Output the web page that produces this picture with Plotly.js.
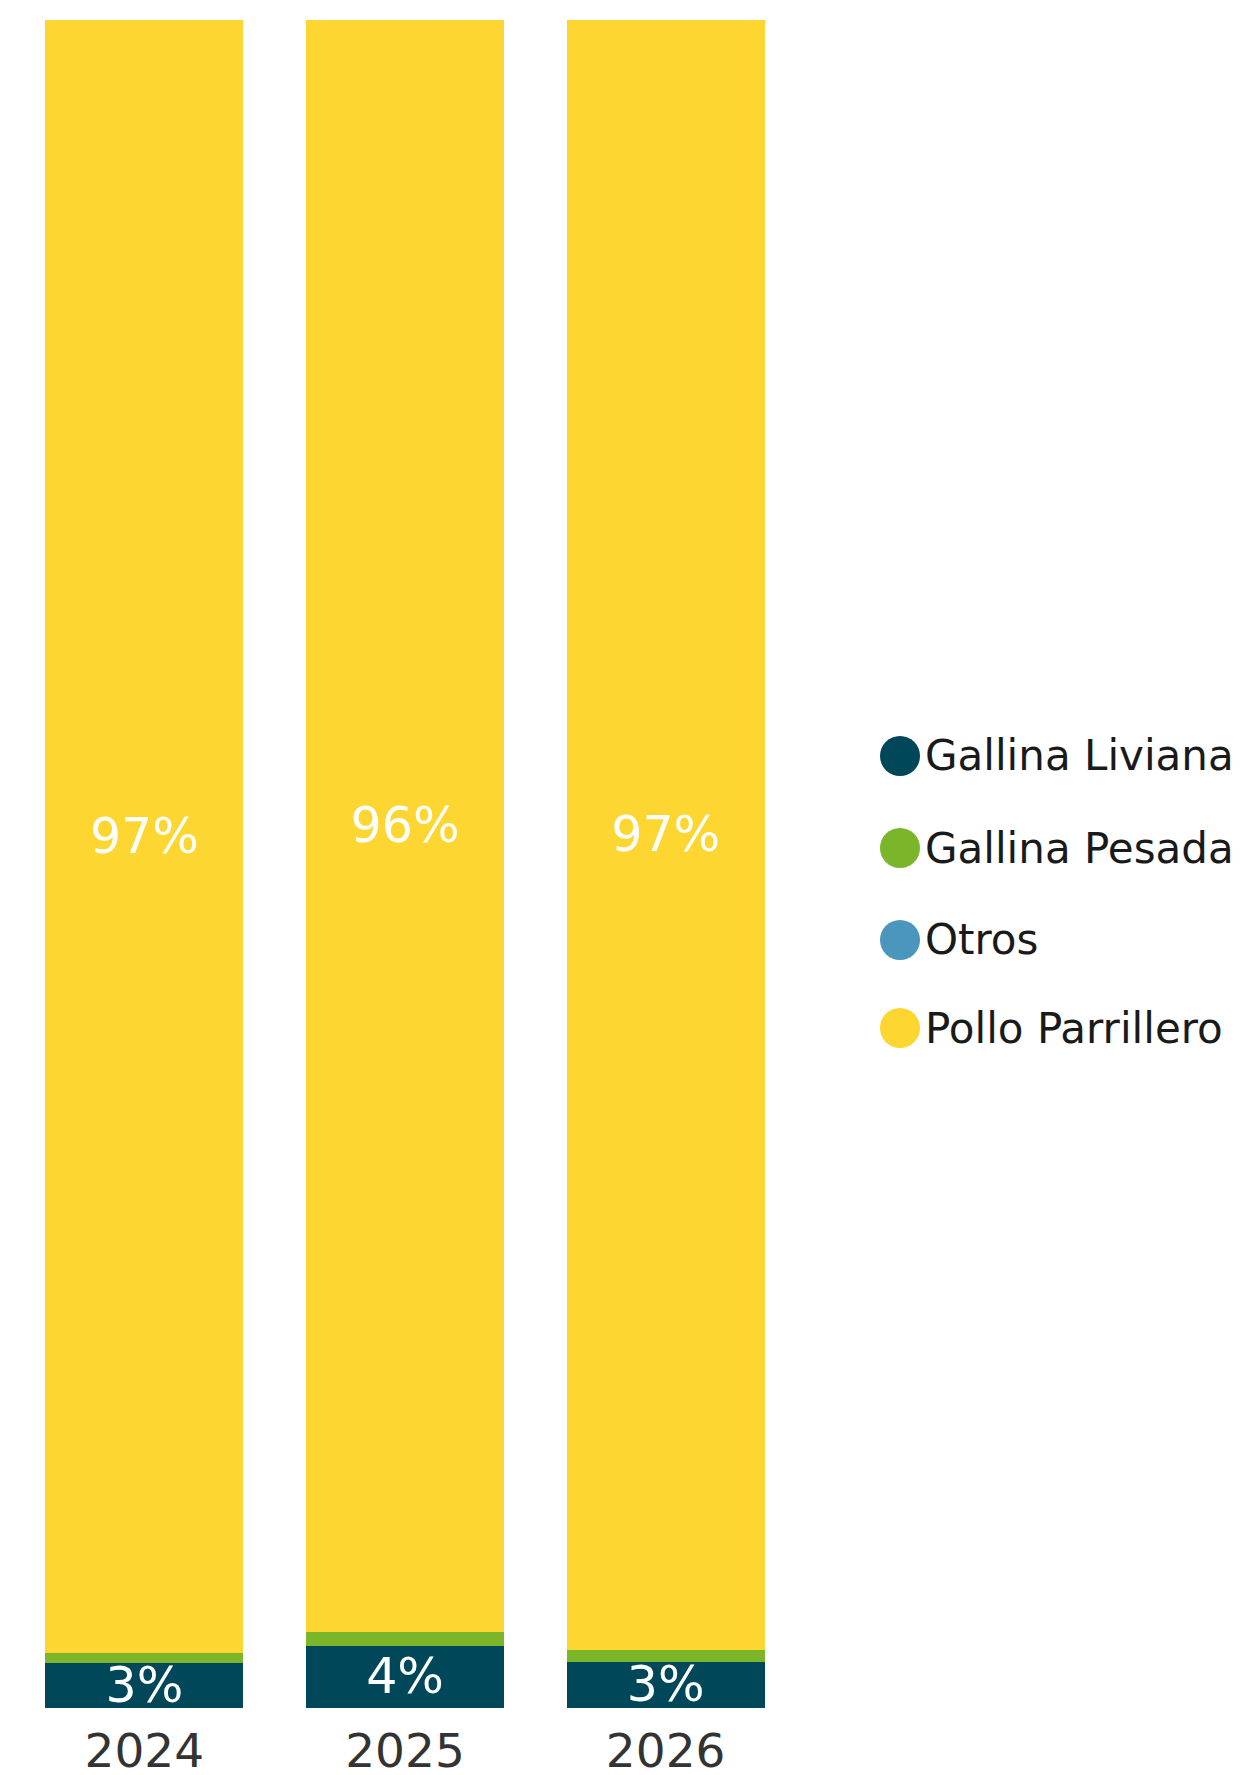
<!DOCTYPE html>
<html>
<head>
<meta charset="utf-8">
<script src="https://cdn.plot.ly/plotly-3.0.1.min.js"></script>
<style>html,body{margin:0;padding:0;background:#fff;}#chart{width:1240px;height:1775px;}</style>
</head>
<body>
<div id="chart"></div>
<script>
// Data
const years = ["2024", "2025", "2026"];
const seriesNames = ["Gallina Liviana", "Gallina Pesada", "Otros", "Pollo Parrillero"];
const gallinaLiviana = [2.68, 3.69, 2.74];
const gallinaPesada = [0.59, 0.79, 0.71];
const otros = [0.0, 0.05, 0.0];
const polloParrillero = [96.73, 95.47, 96.55];
const labelsLiviana = ["3%", "4%", "3%"];
const labelsPollo = ["97%", "96%", "97%"];
const colors = ["#004759", "#7AB52A", "#4B96BC", "#FDD631"];

const values = [gallinaLiviana, gallinaPesada, otros, polloParrillero];
const texts = [labelsLiviana, null, null, labelsPollo];

const FONT = "DejaVu Sans, Verdana, sans-serif";

const traces = values.map((v, i) => {
  const t = {
    type: "bar",
    name: seriesNames[i],
    x: years,
    y: v,
    marker: { color: colors[i], line: { width: 0 } },
    showlegend: false,
    hoverinfo: "none"
  };
  if (texts[i]) {
    t.text = texts[i];
    t.textposition = "inside";
    t.insidetextanchor = "middle";
    t.textangle = 0;
    t.constraintext = "none";
    t.textfont = { family: FONT, size: 49, color: "#ffffff" };
  } else {
    t.textposition = "none";
  }
  return t;
});

// Plot geometry (pixels)
const W = 1240, H = 1775;
const mL = 14, mR = 444, mT = 20, mB = 67;
const plotW = W - mL - mR, plotH = H - mT - mB;

// Custom legend with circle markers
const legendCx = 900, legendTextX = 923;
const legendCy = [756, 848, 940, 1028];
const shapes = [], annotations = [];
seriesNames.forEach((n, i) => {
  const px = (legendCx - mL) / plotW;
  const py = (H - mB - legendCy[i]) / plotH;
  shapes.push({
    type: "circle", xref: "paper", yref: "paper",
    xsizemode: "pixel", ysizemode: "pixel",
    xanchor: px, yanchor: py,
    x0: -20, x1: 20, y0: -20, y1: 20,
    fillcolor: colors[i], line: { width: 0 }
  });
  annotations.push({
    xref: "paper", yref: "paper",
    x: (legendTextX - mL) / plotW, y: py,
    xanchor: "left", yanchor: "middle",
    text: n, showarrow: false,
    font: { family: FONT, size: 42, color: "#1a1a1a" }
  });
});

const layout = {
  width: W, height: H,
  margin: { l: mL, r: mR, t: mT, b: mB, pad: 0 },
  barmode: "stack",
  bargap: 0.24,
  paper_bgcolor: "#ffffff",
  plot_bgcolor: "#ffffff",
  showlegend: false,
  xaxis: {
    type: "category",
    showgrid: false, zeroline: false, showline: false,
    ticks: "",
    ticklabelstandoff: 11,
    tickfont: { family: FONT, size: 47, color: "#333333" }
  },
  yaxis: {
    range: [0, 100],
    showgrid: false, zeroline: false, showline: false,
    showticklabels: false, ticks: ""
  },
  shapes: shapes,
  annotations: annotations
};

Plotly.newPlot("chart", traces, layout, { displayModeBar: false, staticPlot: true });
</script>
</body>
</html>
